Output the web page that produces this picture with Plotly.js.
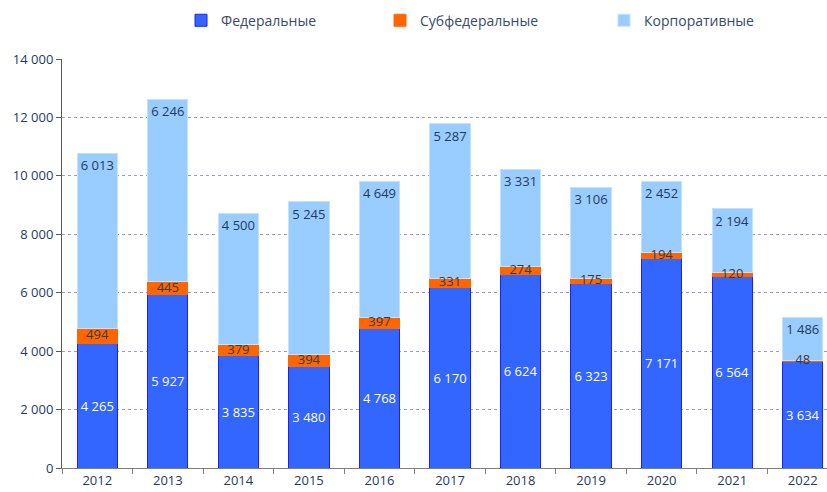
<!DOCTYPE html>
<html><head><meta charset="utf-8">
<script src="https://cdn.plot.ly/plotly-3.0.1.min.js"></script>
<style>html,body{margin:0;padding:0;background:#fff;overflow:hidden}#chart{width:827px;height:492px}</style>
</head><body><div id="chart"></div>
<script>
var years = ['2012','2013','2014','2015','2016','2017','2018','2019','2020','2021','2022'];
var federal = [4265, 5927, 3835, 3480, 4768, 6170, 6624, 6323, 7171, 6564, 3634];
var subfederal = [494, 445, 379, 394, 397, 331, 274, 175, 194, 120, 48];
var corporate = [6013, 6246, 4500, 5245, 4649, 5287, 3331, 3106, 2452, 2194, 1486];
var seriesNames = ['Федеральные', 'Субфедеральные', 'Корпоративные'];

function fmt(n){ return String(n).replace(/\B(?=(\d{3})+(?!\d))/g, ' '); }

var FONT = 'Open Sans, Noto Sans, sans-serif';
var textDark = '#1f3a60';

var traces = [
  {type:'bar', name:seriesNames[0], x:years, y:federal, legend:'legend',
   marker:{color:'#3366ff', line:{color:'#1f1fff', width:1}},
   text:federal.map(fmt), textposition:'inside', insidetextanchor:'middle',
   textfont:{color:'#ffffff', size:13, family:FONT}, textangle:0, constraintext:'none'},
  {type:'bar', name:seriesNames[1], x:years, y:subfederal, legend:'legend2',
   marker:{color:'#ff6600', line:{color:'#ff6600', width:1}},
   textposition:'none'},
  {type:'bar', name:seriesNames[2], x:years, y:corporate, legend:'legend3',
   marker:{color:'#99ccff', line:{color:'#c4e2ff', width:1}},
   text:corporate.map(fmt), textposition:'inside', insidetextanchor:'end',
   textfont:{color:textDark, size:13, family:FONT}, textangle:0, constraintext:'none'},
  {type:'scatter', mode:'text', x:years,
   y:federal.map(function(f,i){return f + subfederal[i]/2;}),
   text:subfederal.map(fmt), textposition:'middle center',
   textfont:{color:'#3a3a3a', size:13, family:FONT}, showlegend:false, hoverinfo:'skip'}
];

var legendCommon = {orientation:'h', xref:'container', yref:'container', yanchor:'middle', xanchor:'left',
  y:0.958, font:{size:14, color:'#3a4a66', family:FONT}, itemwidth:30, bgcolor:'rgba(0,0,0,0)'};

var layout = {
  width:827, height:492,
  margin:{l:62, r:0, t:59, b:24},
  barmode:'stack', bargap:0.43,
  separators:', ',
  paper_bgcolor:'#ffffff', plot_bgcolor:'#ffffff',
  font:{family:FONT, size:13, color:textDark},
  showlegend:true,
  legend:Object.assign({}, legendCommon, {x:(181)/827}),
  legend2:Object.assign({}, legendCommon, {x:(380)/827}),
  legend3:Object.assign({}, legendCommon, {x:(604)/827}),
  xaxis:{type:'category', range:[-0.5, 10.344], showline:true, linecolor:'#7f7f7f', linewidth:1,
    ticks:'outside', tickson:'boundaries', ticklen:5, tickcolor:'#7f7f7f',
    tickfont:{size:13, color:textDark, family:FONT}, showgrid:false, fixedrange:true},
  yaxis:{range:[0,14000], dtick:2000, tickformat:',d', showline:true, linecolor:'#595959', linewidth:1,
    ticks:'outside', ticklen:5, tickcolor:'#595959',
    tickfont:{size:13, color:textDark, family:FONT},
    showgrid:true, gridcolor:'#9a9ad0', griddash:'dot', gridwidth:1, zeroline:false}
};

Plotly.newPlot('chart', traces, layout, {displayModeBar:false, staticPlot:true});
</script></body></html>
